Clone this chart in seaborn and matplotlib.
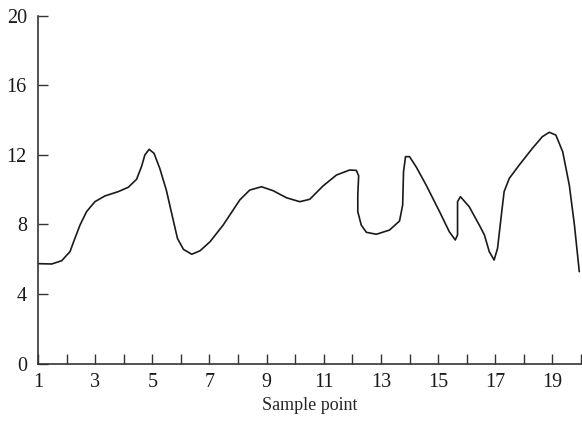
import matplotlib
matplotlib.use("Agg")
import matplotlib.pyplot as plt
import seaborn as sns
import pandas as pd

# Curve values (sample point, value)
x_vals = [1.0, 1.48, 1.83, 2.12, 2.29, 2.47, 2.7, 2.99, 3.34, 3.81, 4.16, 4.45, 4.62, 4.74,
          4.89, 5.06, 5.26, 5.49, 5.73, 5.88, 6.09, 6.38, 6.67, 7.02, 7.48, 8.06, 8.41, 8.82,
          9.23, 9.69, 10.16, 10.51, 10.97, 11.44, 11.9, 12.14, 12.22, 12.19, 12.19, 12.31,
          12.49, 12.84, 13.3, 13.65, 13.76, 13.79, 13.86, 14.0, 14.23, 14.58, 15.05, 15.39,
          15.6, 15.68, 15.68, 15.78, 16.09, 16.44, 16.62, 16.79, 16.96, 17.08, 17.2, 17.31,
          17.49, 17.84, 18.3, 18.65, 18.89, 19.12, 19.36, 19.59, 19.77, 19.94]
y_vals = [5.75, 5.73, 5.92, 6.44, 7.2, 7.97, 8.74, 9.31, 9.64, 9.89, 10.14, 10.6, 11.32, 12.0,
          12.32, 12.09, 11.23, 9.98, 8.26, 7.2, 6.57, 6.29, 6.49, 7.01, 7.97, 9.41, 9.98, 10.17,
          9.94, 9.54, 9.31, 9.45, 10.21, 10.84, 11.13, 11.11, 10.8, 9.7, 8.74, 7.97,
          7.55, 7.44, 7.68, 8.2, 9.12, 11.03, 11.9, 11.9, 11.32, 10.27, 8.74, 7.59,
          7.11, 7.4, 9.31, 9.6, 9.02, 7.97, 7.4, 6.44, 5.96, 6.63, 8.36, 9.89,
          10.65, 11.42, 12.38, 13.05, 13.3, 13.14, 12.18, 10.27, 7.97, 5.29]

x_ticks = list(range(1, 21))
x_tick_labels = [str(t) if t % 2 == 1 else "" for t in x_ticks]
y_ticks = [0, 4, 8, 12, 16, 20]
x_label = "Sample point"

sns.set_style("ticks")
plt.rcParams['font.family'] = ['Liberation Serif', 'DejaVu Serif']

fig = plt.figure(figsize=(5.82, 4.21), dpi=100)
ax = fig.add_axes([38 / 582, (421 - 363.7) / 421, (581 - 38) / 582, (363.7 - 15.7) / 421])

df = pd.DataFrame({"x": x_vals, "y": y_vals})
sns.lineplot(data=df, x="x", y="y", sort=False, ax=ax, color="#1a1a1a", linewidth=1.2,
             estimator=None, solid_joinstyle="round")

ax.set_xlim(1, 20)
ax.set_ylim(0, 20)
ax.set_xticks(x_ticks)
ax.set_xticklabels(x_tick_labels)
ax.set_yticks(y_ticks)
ax.set_xlabel(x_label, fontsize=13, labelpad=3)
ax.set_ylabel("")
ax.tick_params(axis="both", direction="in", length=7, width=1.0, colors="#333333",
               labelsize=14.5, labelcolor="#1a1a1a")
ax.tick_params(axis="x", pad=7)
ax.tick_params(axis="y", pad=8)
for t in ax.xaxis.get_major_ticks():
    t.tick1line.set_clip_on(False)
sns.despine(ax=ax)
for s in ["left", "bottom"]:
    ax.spines[s].set_linewidth(1.2)
    ax.spines[s].set_color("#333333")

fig.savefig("out.png", dpi=100)
